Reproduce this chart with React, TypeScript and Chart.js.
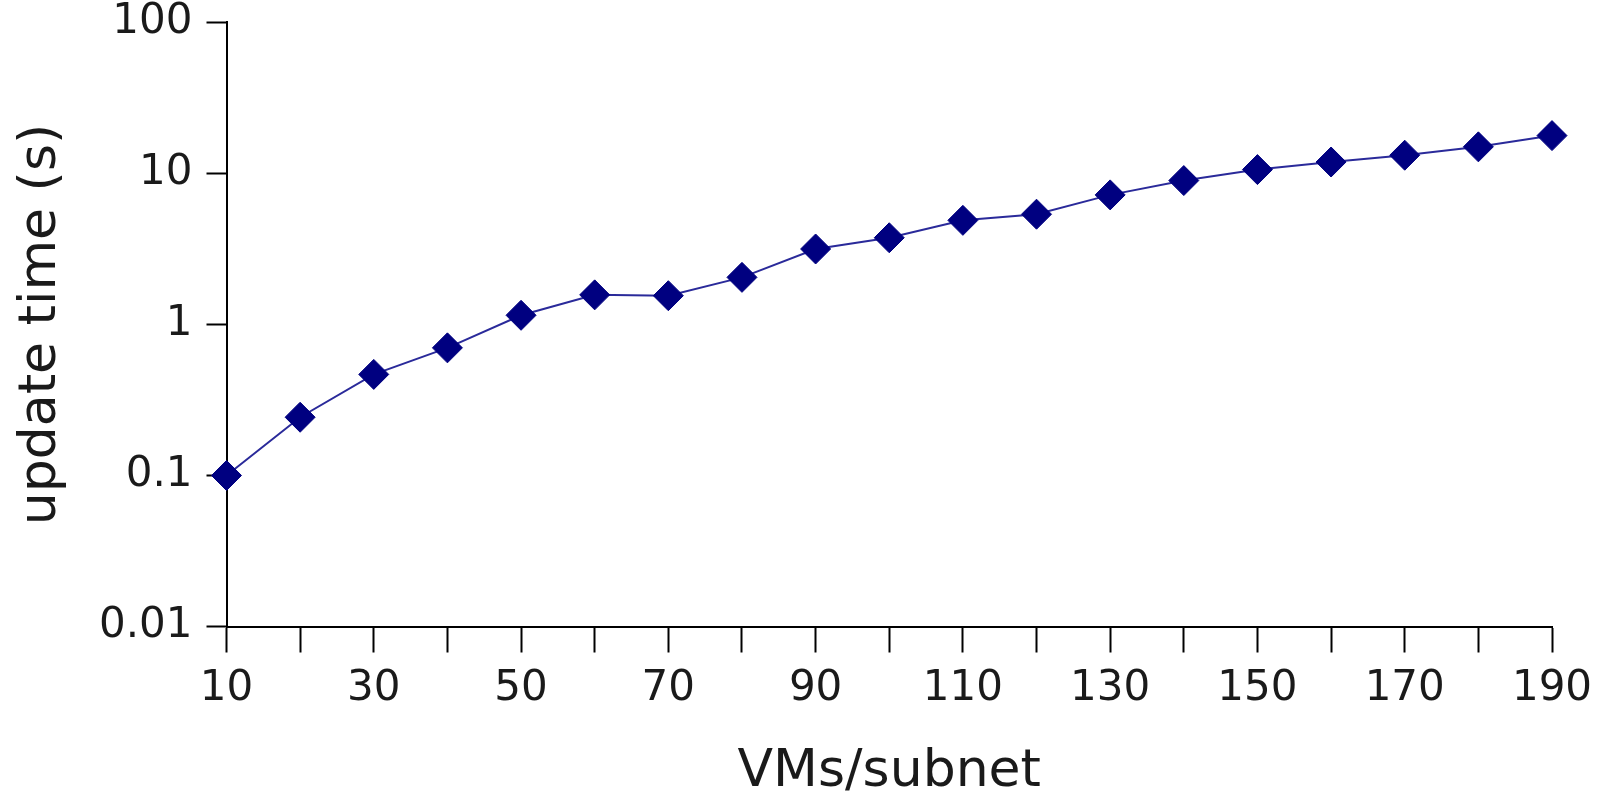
import React, { useEffect, useRef } from "react";
import { Chart, registerables } from "chart.js";

Chart.register(...registerables);

const vmsPerSubnet = [10, 20, 30, 40, 50, 60, 70, 80, 90, 100, 110, 120, 130, 140, 150, 160, 170, 180, 190];
const updateTime = [0.1, 0.243, 0.467, 0.70, 1.15, 1.57, 1.55, 2.05, 3.16, 3.75, 4.89, 5.37, 7.21, 8.97, 10.6, 11.9, 13.2, 15.0, 17.8];
const yTickValues = [0.01, 0.1, 1, 10, 100];
const yTickLabels = ["0.01", "0.1", "1", "10", "100"];
const xLabelledTicks = [10, 30, 50, 70, 90, 110, 130, 150, 170, 190];

const FONT = "'DejaVu Sans', sans-serif";

export default function App() {
  const ref = useRef<HTMLCanvasElement | null>(null);
  useEffect(() => {
    const ctx = ref.current!.getContext("2d")!;
    const chart = new Chart(ctx, {
      type: "line",
      data: {
        datasets: [
          {
            data: vmsPerSubnet.map((x, i) => ({ x, y: updateTime[i] })),
            borderColor: "#2a2a9a",
            borderWidth: 2,
            backgroundColor: "#000080",
            pointBackgroundColor: "#000080",
            pointBorderColor: "#000080",
            pointBorderWidth: 1,
            pointStyle: "rectRot",
            pointRadius: 15,
            tension: 0,
            clip: false as any,
          },
        ],
      },
      options: {
        animation: false,
        responsive: false,
        maintainAspectRatio: false,
        layout: { padding: { top: 22.4, right: 48, bottom: 0, left: 0 } },
        plugins: { legend: { display: false }, tooltip: { enabled: false } },
        scales: {
          x: {
            type: "linear",
            min: 10,
            max: 190,
            border: { display: true, color: "#000", width: 2 },
            grid: { display: true, drawOnChartArea: false, drawTicks: true, tickLength: 26, tickColor: "#000", tickWidth: 2 },
            ticks: {
              stepSize: 10,
              autoSkip: false,
              maxRotation: 0,
              color: "#1a1a1a",
              font: { family: FONT, size: 42 },
              padding: 11,
              callback: (v: any) => (xLabelledTicks.includes(Number(v)) ? String(v) : ""),
            },
            title: {
              display: true,
              text: "VMs/subnet",
              color: "#1a1a1a",
              font: { family: FONT, size: 52, lineHeight: 0.846 },
              padding: { top: 0, bottom: 0 },
            },
            afterFit: (scale: any) => {
              scale.height = 167.5;
              scale.paddingLeft = 0;
              scale.paddingRight = 0;
            },
          },
          y: {
            type: "logarithmic",
            min: 0.01,
            max: 100,
            border: { display: true, color: "#000", width: 2 },
            grid: { display: true, drawOnChartArea: false, drawTicks: true, tickLength: 20, tickColor: "#000", tickWidth: 2 },
            afterBuildTicks: (scale: any) => {
              scale.ticks = yTickValues.map((v) => ({ value: v }));
            },
            ticks: {
              color: "#1a1a1a",
              font: { family: FONT, size: 42 },
              padding: 14,
              autoSkip: false,
              callback: (v: any) => {
                const i = yTickValues.indexOf(Number(v));
                return i >= 0 ? yTickLabels[i] : "";
              },
            },
            title: {
              display: true,
              text: "update time (s)",
              color: "#1a1a1a",
              font: { family: FONT, size: 52, lineHeight: 1.2 },
              padding: { top: 10, bottom: 0 },
            },
            afterFit: (scale: any) => {
              scale.width = 226.5;
              scale.paddingTop = 0;
              scale.paddingBottom = 0;
            },
          },
        },
      },
    });
    return () => chart.destroy();
  }, []);
  return (
    <div style={{ position: "fixed", left: 0, top: 0, width: 1600, height: 794, background: "#fff" }}>
      <canvas ref={ref} width={1600} height={794} style={{ display: "block" }} />
    </div>
  );
}
